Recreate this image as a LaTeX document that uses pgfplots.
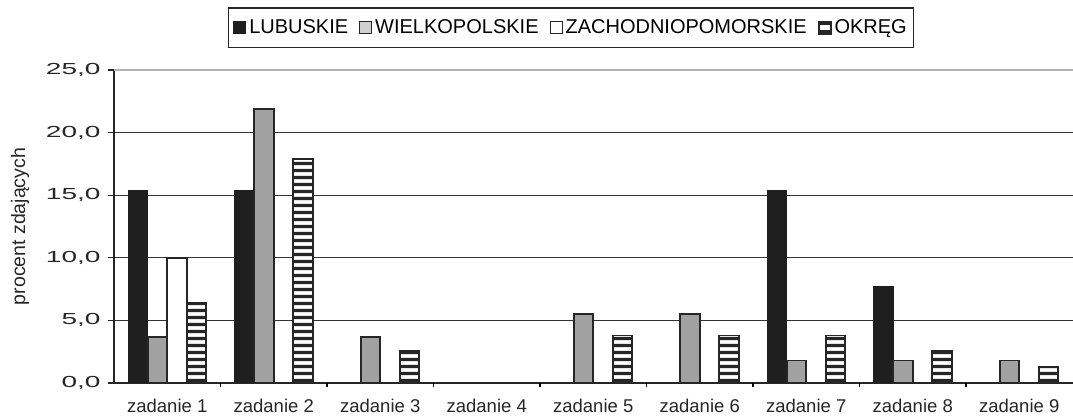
\documentclass[border=0pt]{standalone}
\usepackage{fontspec}
\setmainfont{Liberation Sans}
\usepackage{graphicx}
\usepackage{pgfplots}
\pgfplotsset{compat=1.18}
\usetikzlibrary{patterns.meta}

\pgfplotstableread{
x y
0 15.4
1 15.4
6 15.4
7 7.7
}\lubuskie
\pgfplotstableread{
x y
0 3.7
1 21.9
2 3.7
4 5.5
5 5.5
6 1.8
7 1.8
8 1.8
}\wielkopolskie
\pgfplotstableread{
x y
0 10.0
}\zachodnio
\pgfplotstableread{
x y
0 6.4
1 17.9
2 2.6
4 3.8
5 3.8
6 3.8
7 2.6
8 1.3
}\okreg

\begin{document}
\begin{tikzpicture}[x=1pt,y=1pt]
\begin{axis}[
  at={(114pt,34pt)}, anchor=south west,
  scale only axis, width=958.5pt, height=313pt,
  ybar=0pt, bar width=0.183,
  xmin=-0.5, xmax=8.5, ymin=0, ymax=25,
  axis x line*=bottom, axis y line*=left,
  axis line style={-, line width=1.3pt, draw=black!85},
  xtick={0,...,8},
  xticklabels={zadanie 1,zadanie 2,zadanie 3,zadanie 4,zadanie 5,zadanie 6,zadanie 7,zadanie 8,zadanie 9},
  xtick style={draw=none},
  xticklabel style={font=\fontsize{18.5}{20}\selectfont, yshift=-7pt, text=black!85},
  extra x ticks={0.5,1.5,...,7.5},
  extra x tick labels={},
  extra x tick style={xtick style={draw=black, line width=1.2pt}, major tick length=4pt, tick align=outside},
  ytick={0,5,...,20},
  extra y ticks={25},
  extra y tick style={grid style={draw=black!30, line width=1.5pt}},
  ytick style={draw=black!85, line width=1.2pt},
  major tick length=6pt, tick align=outside,
  ymajorgrids,
  grid style={draw=black!80, line width=1.3pt},
  /pgf/number format/.cd, use comma, fixed, fixed zerofill, precision=1, assume math mode=true,
  /pgfplots/.cd,
  yticklabel={\scalebox{1.75}[1]{\pgfmathprintnumber{\tick}}},
  yticklabel style={font=\fontsize{16}{18}\selectfont, text=black!85, xshift=-4pt},
  ylabel={procent zdających},
  ylabel style={at={(axis description cs:-0.098,0.5)}, anchor=center, font=\fontsize{19.5}{22}\selectfont, text=black!85},
  legend columns=-1,
  legend image code/.code={\draw[#1, line width=1pt] (0pt,-6pt) rectangle (12pt,6pt);},
  legend style={at={(0.4768,1.2)}, anchor=north, draw=black!85, line width=1.2pt,
    font=\fontsize{20}{22}\selectfont, inner xsep=5pt, inner ysep=10pt,
    /tikz/every even column/.append style={column sep=9pt},
    /tikz/every odd column/.append style={column sep=1pt}},
]
\addplot[fill=black!88, draw=black!88, line width=1pt] table {\lubuskie};
\addplot[fill=black!37, draw=black!85, line width=1.8pt,
  legend image code/.code={\draw[fill=black!18, draw=black!85, line width=1pt] (0pt,-6pt) rectangle (12pt,6pt);}] table {\wielkopolskie};
\addplot[fill=white, draw=black!85, line width=1.8pt] table {\zachodnio};
\addplot[preaction={fill=white}, pattern={Lines[angle=0,distance=7.4pt,line width=3.6pt]}, pattern color=black!85, draw=black!85, line width=1.8pt,
  legend image code/.code={\fill[black!85] (0pt,-6pt) rectangle (12pt,6pt); \fill[white] (2pt,-1.5pt) rectangle (10pt,1.5pt);}] table {\okreg};
\legend{LUBUSKIE,WIELKOPOLSKIE,ZACHODNIOPOMORSKIE,OKRĘG}
\end{axis}
\pgfresetboundingbox
\useasboundingbox (0,0) rectangle (1073,417);
\end{tikzpicture}
\end{document}
